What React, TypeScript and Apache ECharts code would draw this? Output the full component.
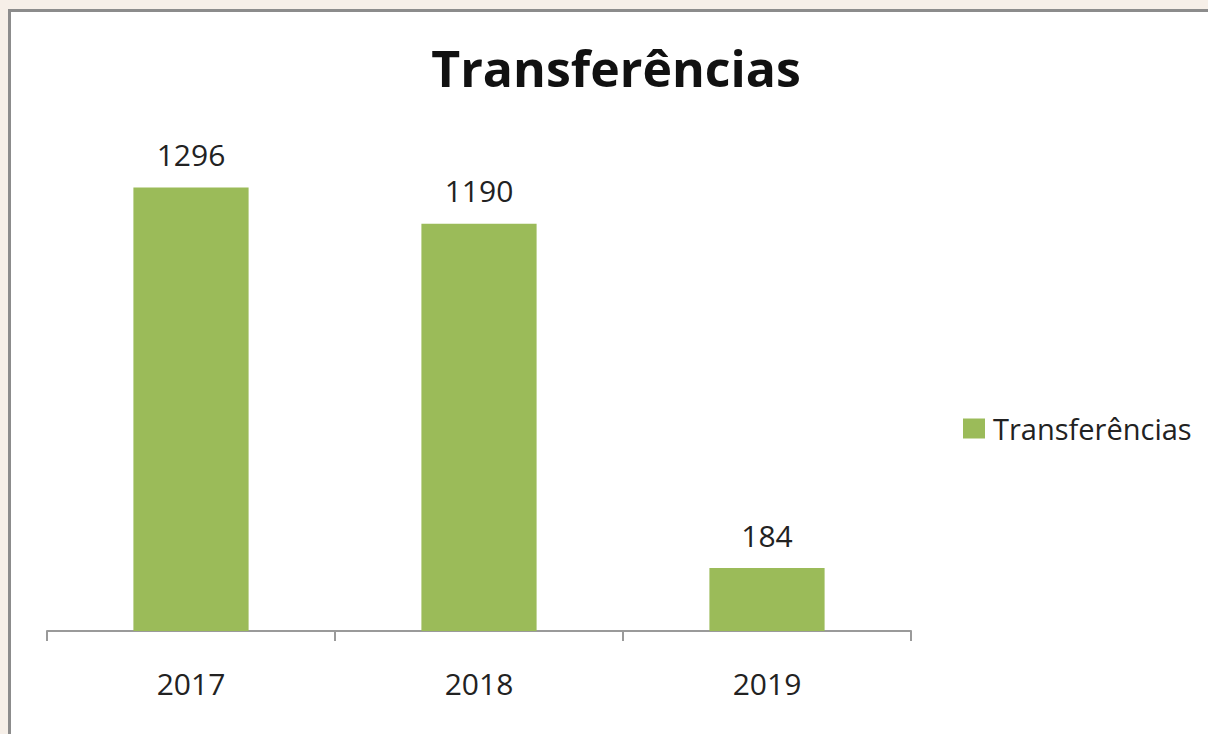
import React, { useEffect, useRef } from "react";
import * as echarts from "echarts";

const categories = ["2017", "2018", "2019"];
const values = [1296, 1190, 184];
const seriesName = "Transferências";
const titleText = "Transferências";

export default function App() {
  const ref = useRef<HTMLDivElement>(null);
  useEffect(() => {
    if (!ref.current) return;
    const chart = echarts.init(ref.current, undefined, { renderer: "svg" });
    chart.setOption({
      animation: false,
      title: {
        text: titleText,
        left: 616,
        textAlign: "center",
        top: 43,
        padding: 0,
        textStyle: { fontFamily: "Open Sans", fontWeight: "bold", fontSize: 50, color: "#111" },
      },
      legend: {
        data: [seriesName],
        left: 963,
        top: 414,
        padding: 0,
        itemWidth: 22,
        itemHeight: 20,
        icon: "rect",
        textStyle: { fontFamily: "Open Sans", fontSize: 29, color: "#222", padding: [0, 0, 0, 3] },
      },
      grid: { left: 47, right: 297, top: 152, bottom: 103 },
      xAxis: {
        type: "category",
        data: categories,
        axisLine: { lineStyle: { color: "#9a9a9a", width: 2 } },
        axisTick: { show: true, length: 10, lineStyle: { color: "#9a9a9a", width: 2 } },
        axisLabel: { fontFamily: "Open Sans", fontSize: 30, color: "#222", margin: 37 },
      },
      yAxis: { type: "value", min: 0, max: 1400, show: false, splitLine: { show: false } },
      series: [
        {
          name: seriesName,
          type: "bar",
          data: values,
          barWidth: "40%",
          itemStyle: { color: "#9bbb59" },
          label: {
            show: true,
            position: "top",
            distance: 18,
            fontFamily: "Open Sans",
            fontSize: 30,
            color: "#222",
          },
        },
      ],
    });
    return () => chart.dispose();
  }, []);
  return (
    <div style={{ position: "fixed", left: 0, top: 0, width: "100vw", height: "100vh", background: "#ffffff", overflow: "hidden" }}>
      <div style={{ position: "absolute", left: 0, top: 0, width: 8, height: "100%", background: "#f6efe8" }} />
      <div style={{ position: "absolute", left: 0, top: 0, width: "100%", height: 9, background: "#f6efe8" }} />
      <div style={{ position: "absolute", left: 8, top: 9, width: 3, height: "100%", background: "#8c8c8c" }} />
      <div style={{ position: "absolute", left: 8, top: 9, width: "100%", height: 3, background: "#8c8c8c" }} />
      <div ref={ref} style={{ position: "absolute", left: 0, top: 0, width: 1208, height: 734 }} />
    </div>
  );
}
